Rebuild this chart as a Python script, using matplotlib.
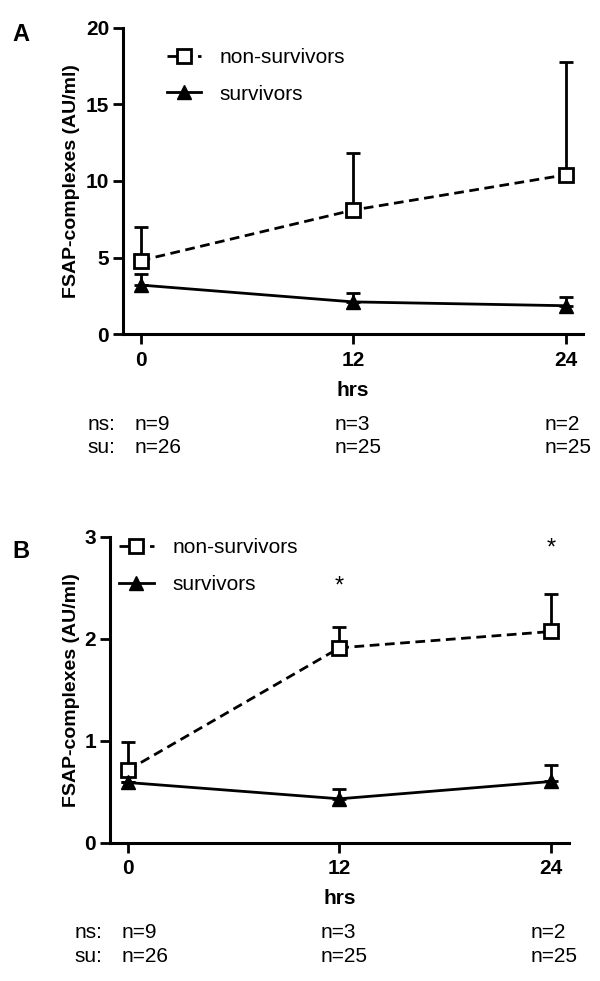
import numpy as np
import matplotlib
matplotlib.use("Agg")
import matplotlib.pyplot as plt

plt.rcParams['font.family'] = ['Liberation Sans', 'DejaVu Sans']

# shared x values (hours after admission)
hours = [0, 12, 24]
n_nonsurv = [9, 3, 2]
n_surv = [26, 25, 25]

# panel A values (mean and upper error)
a_ns_mean = [4.8, 8.1, 10.4]
a_ns_err = [2.2, 3.7, 7.4]
a_su_mean = [3.2, 2.1, 1.85]
a_su_err = [0.7, 0.55, 0.6]

# panel B values
b_ns_mean = [0.71, 1.91, 2.07]
b_ns_err = [0.28, 0.20, 0.37]
b_su_mean = [0.59, 0.43, 0.60]
b_su_err = [0.0, 0.10, 0.16]
b_stars = [12, 24]
b_star_y = [2.51, 2.88]


def draw_panel(ax, ns_mean, ns_err, su_mean, su_err, ymax, yticks, ylab_x):
    ax.errorbar(hours, ns_mean, yerr=[np.zeros(3), ns_err], fmt='none',
                ecolor='black', elinewidth=2, capsize=5, capthick=2, zorder=2)
    ax.errorbar(hours, su_mean, yerr=[np.zeros(3), su_err], fmt='none',
                ecolor='black', elinewidth=2, capsize=5, capthick=2, zorder=2)
    ax.plot(hours, ns_mean, color='black', lw=2, dashes=(3.5, 2),
            marker='s', markersize=9.5, markerfacecolor='white',
            markeredgecolor='black', markeredgewidth=2, label='non-survivors', zorder=3)
    ax.plot(hours, su_mean, color='black', lw=2, marker='^', markersize=9.5,
            markerfacecolor='black', markeredgecolor='black', label='survivors', zorder=3)

    ax.set_xlim(-1, 25)
    ax.set_ylim(0, ymax)
    ax.set_xticks(hours)
    ax.set_yticks(yticks)
    for s in ['top', 'right']:
        ax.spines[s].set_visible(False)
    for s in ['left', 'bottom']:
        ax.spines[s].set_linewidth(2.2)
    ax.tick_params(axis='both', width=2, length=7, labelsize=15, pad=3)
    ax.tick_params(axis='x', pad=5)
    for lab in ax.get_xticklabels() + ax.get_yticklabels():
        lab.set_fontweight('bold')
    ax.set_xlabel('hrs', fontsize=15, fontweight='bold', labelpad=8)
    ax.set_ylabel('FSAP-complexes (AU/ml)', fontsize=14, fontweight='bold')
    ax.yaxis.set_label_coords(ylab_x, 0.5)

    # group sizes under the x-axis
    ax.text(-0.078, -0.294, 'ns:', transform=ax.transAxes, fontsize=15,
            ha='left', va='center')
    ax.text(-0.078, -0.372, 'su:', transform=ax.transAxes, fontsize=15,
            ha='left', va='center')
    offsets = [-0.35, -1.05, -1.2]
    for h, off, a, b in zip(hours, offsets, n_nonsurv, n_surv):
        tr = ax.get_xaxis_transform()
        ax.text(h + off, -0.294, 'n=%d' % a, transform=tr, fontsize=15,
                ha='left', va='center')
        ax.text(h + off, -0.372, 'n=%d' % b, transform=tr, fontsize=15,
                ha='left', va='center')


fig = plt.figure(figsize=(6, 9.81), dpi=100)
axA = fig.add_axes([0.205, 0.6595, 0.767, 0.312])
axB = fig.add_axes([0.1833, 0.141, 0.765, 0.312])

draw_panel(axA, a_ns_mean, a_ns_err, a_su_mean, a_su_err, 20, [0, 5, 10, 15, 20], -0.093)
draw_panel(axB, b_ns_mean, b_ns_err, b_su_mean, b_su_err, 3, [0, 1, 2, 3], -0.066)

for h, y in zip(b_stars, b_star_y):
    axB.text(h, y, '*', fontsize=17, ha='center', va='center')

axA.legend(loc='upper left', bbox_to_anchor=(0.095, 0.935), frameon=False,
           fontsize=15, handlelength=1.65, handletextpad=0.9, labelspacing=0.85,
           borderpad=0, borderaxespad=0)
axB.legend(loc='upper left', bbox_to_anchor=(0.02, 0.995), frameon=False,
           fontsize=15, handlelength=1.65, handletextpad=0.9, labelspacing=0.85,
           borderpad=0, borderaxespad=0)

fig.text(0.02, 0.965, 'A', fontsize=17, fontweight='bold', ha='left', va='center')
fig.text(0.02, 0.438, 'B', fontsize=17, fontweight='bold', ha='left', va='center')

fig.savefig('out.png', dpi=100, facecolor='white')
